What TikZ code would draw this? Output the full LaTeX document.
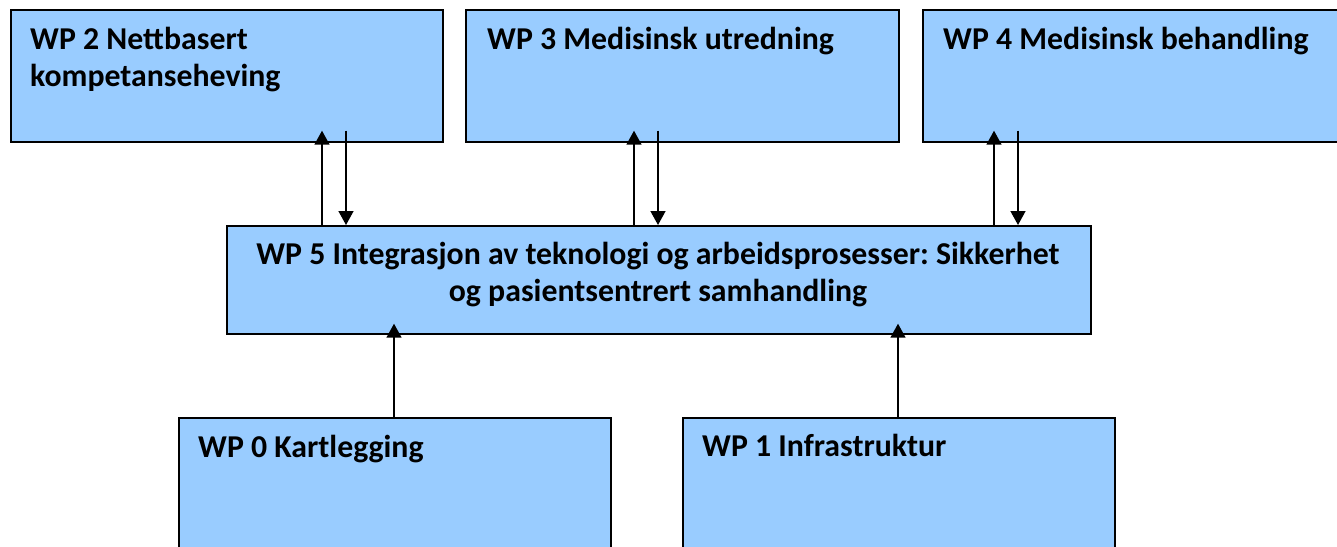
\documentclass[tikz,border=0pt]{standalone}
\usepackage{fontspec}
\setmainfont{Carlito}
\frenchspacing
\usetikzlibrary{arrows.meta}
\definecolor{boxblue}{RGB}{153,204,255}
\tikzset{
  wpbox/.style={draw=black, fill=boxblue, line width=1.7pt, rectangle, anchor=north west, inner sep=0pt, minimum width=#1},
  wpbox/.default=432pt,
  wptext/.style={font=\fontsize{31.8}{37}\selectfont\bfseries, inner sep=0pt, align=left, anchor=base west},
  arr/.style={line width=1.5pt, -{Triangle[length=14pt,width=15pt]}}
}
\begin{document}
\begin{tikzpicture}[x=1pt, y=-1pt]
\useasboundingbox (0,0) rectangle (1337,546);
\clip (0,0) rectangle (1337,546);
% boxes
\node[wpbox, minimum height=132pt] (wp2) at (10,9) {};
\node[wpbox=433pt, minimum height=132pt] (wp3) at (465,9) {};
\node[wpbox, minimum height=132pt] (wp4) at (922,9) {};
\node[wpbox=864pt, minimum height=108pt] (wp5) at (226,225) {};
\node[wpbox, minimum height=160pt] (wp0) at (178,417) {};
\node[wpbox, minimum height=160pt] (wp1) at (682,417) {};
% texts
\node[wptext] (t2) at ([xshift=20pt,yshift=-77pt]wp2.north west) {WP 2 Nettbasert\\kompetanseheving};
\node[wptext] (t3) at ([xshift=22pt,yshift=-40pt]wp3.north west) {WP 3 Medisinsk utredning};
\node[wptext] (t4) at ([xshift=21pt,yshift=-40pt]wp4.north west) {WP 4 Medisinsk behandling};
\node[wptext, align=center, anchor=base] (t5) at ([xshift=432pt,yshift=-76pt]wp5.north west) {WP 5 Integrasjon av teknologi og arbeidsprosesser: Sikkerhet\\og pasientsentrert samhandling};
\node[wptext] (t0) at ([xshift=20pt,yshift=-40pt]wp0.north west) {WP 0 Kartlegging};
\node[wptext] (t1) at ([xshift=20pt,yshift=-39pt]wp1.north west) {WP 1 Infrastruktur};
% arrows top
\draw[arr] ([xshift=96pt]wp5.north west) -- ([xshift=312pt,yshift=12pt]wp2.south west);
\draw[arr] ([xshift=336pt,yshift=12pt]wp2.south west) -- ([xshift=120pt]wp5.north west);
\draw[arr] ([xshift=408pt]wp5.north west) -- ([xshift=169pt,yshift=12pt]wp3.south west);
\draw[arr] ([xshift=193pt,yshift=12pt]wp3.south west) -- ([xshift=432pt]wp5.north west);
\draw[arr] ([xshift=768pt]wp5.north west) -- ([xshift=72pt,yshift=12pt]wp4.south west);
\draw[arr] ([xshift=96pt,yshift=12pt]wp4.south west) -- ([xshift=792pt]wp5.north west);
% arrows bottom
\draw[arr] ([xshift=216pt]wp0.north west) -- ([xshift=168pt,yshift=11pt]wp5.south west);
\draw[arr] ([xshift=216pt]wp1.north west) -- ([xshift=672pt,yshift=11pt]wp5.south west);
\end{tikzpicture}
\end{document}
